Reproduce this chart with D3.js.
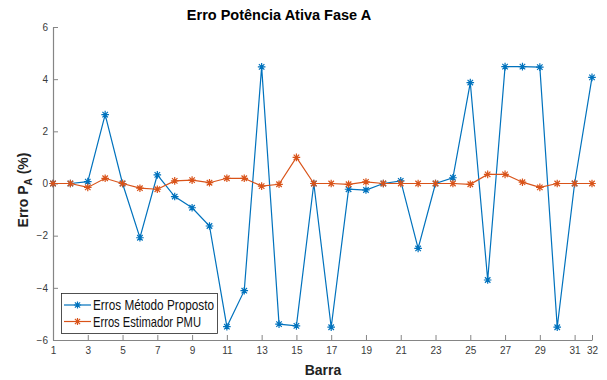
<!DOCTYPE html>
<html>
<head>
<meta charset="utf-8">
<script src="https://cdn.jsdelivr.net/npm/d3@7"></script>
<style>
  body { margin: 0; background: #fff; }
  svg { display: block; font-family: "Liberation Sans", Arial, sans-serif; }
</style>
</head>
<body>
<svg id="chart" width="607" height="380"></svg>
<script>
const barras = d3.range(1, 33);
const metodoProposto = [0, 0, 0.07, 2.64, 0, -2.08, 0.33, -0.5, -0.93, -1.63,
  -5.49, -4.11, 4.47, -5.39, -5.46, 0, -5.51, -0.22, -0.25, 0,
  0.1, -2.49, 0, 0.22, 3.87, -3.7, 4.48, 4.48, 4.46, -5.51, 0, 4.07];
const estimadorPMU = [0, 0, -0.15, 0.2, 0, -0.18, -0.22, 0.1, 0.13, 0.03,
  0.2, 0.2, -0.1, -0.03, 1.0, 0, 0, -0.03, 0.06, 0,
  0, 0, 0, 0, -0.03, 0.35, 0.35, 0.05, -0.15, 0, 0, 0];
const xTicks = [1, 3, 5, 7, 9, 11, 13, 15, 17, 19, 21, 23, 25, 27, 29, 31, 32];
const yTicks = [-6, -4, -2, 0, 2, 4, 6];
const seriesNames = ["Erros Método Proposto", "Erros Estimador PMU"];
const seriesColors = ["#0072BD", "#D95319"];

const svg = d3.select("#chart");
const x = d3.scaleLinear().domain([1, 32]).range([53, 592]);
const y = d3.scaleLinear().domain([-6, 6]).range([340, 27]);
const axisColor = "#858585";

// Axes
const gx = svg.append("g").attr("transform", `translate(0,${y(-6)})`)
  .call(d3.axisBottom(x).tickValues(xTicks).tickFormat(d3.format("d")).tickSizeInner(-5).tickSizeOuter(0).tickPadding(7));
const gy = svg.append("g").attr("transform", `translate(${x(1)},0)`)
  .call(d3.axisLeft(y).tickValues(yTicks).tickSizeInner(-5).tickSizeOuter(0).tickPadding(5));
[gx, gy].forEach(g => {
  g.select(".domain").attr("stroke", axisColor).attr("stroke-width", 1.2);
  g.selectAll(".tick line").attr("stroke", axisColor).attr("stroke-width", 1);
  g.selectAll(".tick text").attr("fill", "#3a3a3a").attr("font-size", 10)
    .attr("font-family", "Liberation Sans, Arial, sans-serif");
});

// Series
const data = [metodoProposto, estimadorPMU];
const line = d3.line().x((d, i) => x(barras[i])).y(d => y(d));
function star(g, cx, cy, r, color) {
  const d = r * 0.72;
  g.append("path")
    .attr("d", `M${cx - r},${cy}L${cx + r},${cy}M${cx},${cy - r}L${cx},${cy + r}` +
               `M${cx - d},${cy - d}L${cx + d},${cy + d}M${cx - d},${cy + d}L${cx + d},${cy - d}`)
    .attr("stroke", color).attr("stroke-width", 1.2).attr("fill", "none");
}
data.forEach((vals, si) => {
  const g = svg.append("g");
  g.append("path").datum(vals).attr("d", line)
    .attr("fill", "none").attr("stroke", seriesColors[si]).attr("stroke-width", 1.2);
  vals.forEach((v, i) => star(g, x(barras[i]), y(v), 3.8, seriesColors[si]));
});

// Legend
const lg = svg.append("g");
lg.append("rect").attr("x", 61.5).attr("y", 293.5).attr("width", 156).attr("height", 40)
  .attr("fill", "#fff").attr("stroke", "#262626").attr("stroke-width", 0.8);
seriesNames.forEach((name, i) => {
  const ly = 305 + i * 16.5;
  lg.append("line").attr("x1", 64).attr("x2", 91).attr("y1", ly).attr("y2", ly)
    .attr("stroke", seriesColors[i]).attr("stroke-width", 1.2);
  star(lg, 77.5, ly, 3.6, seriesColors[i]);
  lg.append("text").attr("x", 93).attr("y", ly + 5).attr("font-size", 14.3)
    .attr("textLength", 121).attr("lengthAdjust", "spacingAndGlyphs")
    .attr("fill", "#111").text(name)
    .attr("textLength", i === 0 ? 121 : 108);
});

// Title and labels
svg.append("text").attr("x", 279).attr("y", 20).attr("text-anchor", "middle")
  .attr("font-size", 14.5).attr("font-weight", "bold").attr("fill", "#000")
  .text("Erro Potência Ativa Fase A");
svg.append("text").attr("x", 323).attr("y", 375).attr("text-anchor", "middle")
  .attr("font-size", 14).attr("font-weight", "bold").attr("fill", "#222").text("Barra");
const yl = svg.append("text").attr("transform", "translate(28,190) rotate(-90)")
  .attr("text-anchor", "middle").attr("font-size", 14).attr("font-weight", "bold").attr("fill", "#222");
yl.append("tspan").text("Erro P");
yl.append("tspan").attr("dy", 4).attr("font-size", 10).text("A");
yl.append("tspan").attr("dy", -4).text(" (%)");
</script>
</body>
</html>
